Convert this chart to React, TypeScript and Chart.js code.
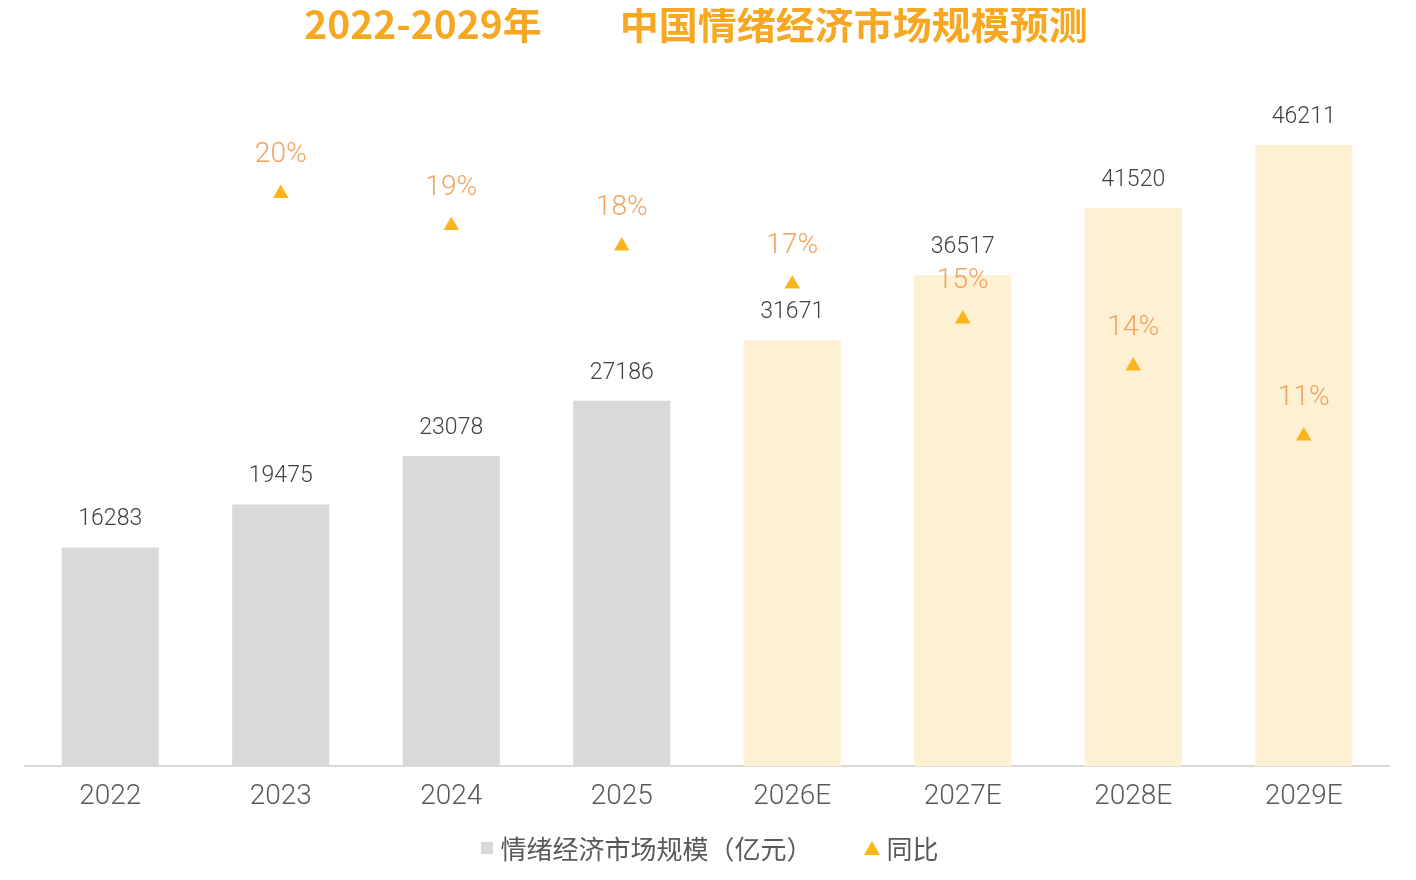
import React, { useEffect, useRef } from "react";
import { Chart, registerables } from "chart.js";

Chart.register(...registerables);

// Market size (100 million CNY) and year-on-year growth (%)
const categories = ["2022", "2023", "2024", "2025", "2026E", "2027E", "2028E", "2029E"];
const marketSize = [16283, 19475, 23078, 27186, 31671, 36517, 41520, 46211];
const yoyGrowth: (number | null)[] = [null, 19.6, 18.5, 17.8, 16.5, 15.3, 13.7, 11.3];

const SIZE_LABEL = "情绪经济市场规模（亿元）";
const GROWTH_LABEL = "同比";
const TITLE_LEFT = "2022-2029年";
const TITLE_RIGHT = "中国情绪经济市场规模预测";

const ACTUAL_COLOR = "#d9d9d9";
const FORECAST_COLOR = "#fdf0d3";
const TRIANGLE_COLOR = "#fbb51c";
const PCT_TEXT_COLOR = "#f2a35e";
const TEXT_COLOR = "#595959";
const TITLE_COLOR = "#f7a823";
const FONT = "Roboto, 'Noto Sans CJK SC', sans-serif";
const CJK_FONT = "'Noto Sans CJK SC', sans-serif";

const barColors = categories.map((c) => (c.endsWith("E") ? FORECAST_COLOR : ACTUAL_COLOR));

const valueLabels = {
  id: "valueLabels",
  afterDatasetsDraw(chart: any) {
    const ctx = chart.ctx;
    ctx.save();
    ctx.textAlign = "center";
    ctx.textBaseline = "middle";
    const bars = chart.getDatasetMeta(0).data;
    ctx.font = `300 23px ${FONT}`;
    ctx.fillStyle = "#404040";
    bars.forEach((el: any, i: number) => {
      ctx.fillText(String(marketSize[i]), el.x, el.y - 28);
    });
    const pts = chart.getDatasetMeta(1).data;
    ctx.font = `300 28px ${FONT}`;
    ctx.fillStyle = PCT_TEXT_COLOR;
    pts.forEach((el: any, i: number) => {
      const v = yoyGrowth[i];
      if (v == null) return;
      ctx.fillText(`${Math.round(v)}%`, el.x, el.y - 38);
    });
    ctx.restore();
  },
};

// Keep full-width brackets at a full em so they don't get squeezed
function FullWidthText({ text }: { text: string }) {
  return (
    <span>
      {Array.from(text).map((ch, i) =>
        ch === "（" || ch === "）" ? (
          <span
            key={i}
            style={{ display: "inline-block", width: "1em", textAlign: ch === "（" ? "right" : "left" }}
          >
            {ch}
          </span>
        ) : (
          <React.Fragment key={i}>{ch}</React.Fragment>
        )
      )}
    </span>
  );
}

export default function App() {
  const canvasRef = useRef<HTMLCanvasElement | null>(null);

  useEffect(() => {
    if (!canvasRef.current) return;
    const chart = new Chart(canvasRef.current, {
      data: {
        labels: categories,
        datasets: [
          {
            type: "bar",
            label: SIZE_LABEL,
            data: marketSize,
            backgroundColor: barColors,
            barPercentage: 0.57,
            categoryPercentage: 1,
            yAxisID: "y",
            order: 1,
          } as any,
          {
            type: "line",
            label: GROWTH_LABEL,
            data: yoyGrowth,
            showLine: false,
            pointStyle: "triangle",
            pointRadius: 9,
            pointBackgroundColor: TRIANGLE_COLOR,
            pointBorderColor: TRIANGLE_COLOR,
            backgroundColor: TRIANGLE_COLOR,
            borderColor: TRIANGLE_COLOR,
            borderWidth: 0,
            yAxisID: "y1",
            order: 0,
          } as any,
        ],
      },
      options: {
        animation: false,
        responsive: true,
        maintainAspectRatio: false,
        layout: { padding: { left: 17, right: 19, top: 86, bottom: 44 } },
        scales: {
          x: {
            grid: { display: false, drawTicks: false },
            border: { display: true, color: "#d9d9d9", width: 2 },
            ticks: { color: TEXT_COLOR, font: { family: FONT, size: 28, weight: 300 as any }, padding: 14 },
          },
          y: { display: false, min: 0, max: 50000 },
          y1: { display: false, min: 0, max: 23.0 },
        },
        plugins: {
          legend: { display: false },
          tooltip: { enabled: false },
        },
      },
      plugins: [valueLabels],
    });
    return () => chart.destroy();
  }, []);

  return (
    <div style={{ width: "100%", height: 864, position: "relative" }}>
      <div
        style={{
          position: "absolute",
          left: 0,
          top: -5,
          width: 1376,
          textAlign: "center",
          color: TITLE_COLOR,
          fontFamily: CJK_FONT,
          fontWeight: 700,
          fontSize: 39,
          lineHeight: "39px",
          whiteSpace: "pre",
        }}
      >
        {TITLE_LEFT}
        <span style={{ display: "inline-block", width: 78 }} />
        {TITLE_RIGHT}
      </div>
      <canvas ref={canvasRef} />
      <div
        style={{
          position: "absolute",
          left: 0,
          top: 825,
          width: 1404,
          display: "flex",
          justifyContent: "center",
          alignItems: "center",
          color: TEXT_COLOR,
          fontFamily: CJK_FONT,
          fontSize: 26,
          lineHeight: "30px",
        }}
      >
        <span style={{ width: 12, height: 12, background: ACTUAL_COLOR, marginRight: 7 }} />
        <FullWidthText text={SIZE_LABEL} />
        <svg width="16" height="14" style={{ marginLeft: 51, marginRight: 7 }}>
          <polygon points="8,0 16,14 0,14" fill={TRIANGLE_COLOR} />
        </svg>
        <span>{GROWTH_LABEL}</span>
      </div>
    </div>
  );
}
